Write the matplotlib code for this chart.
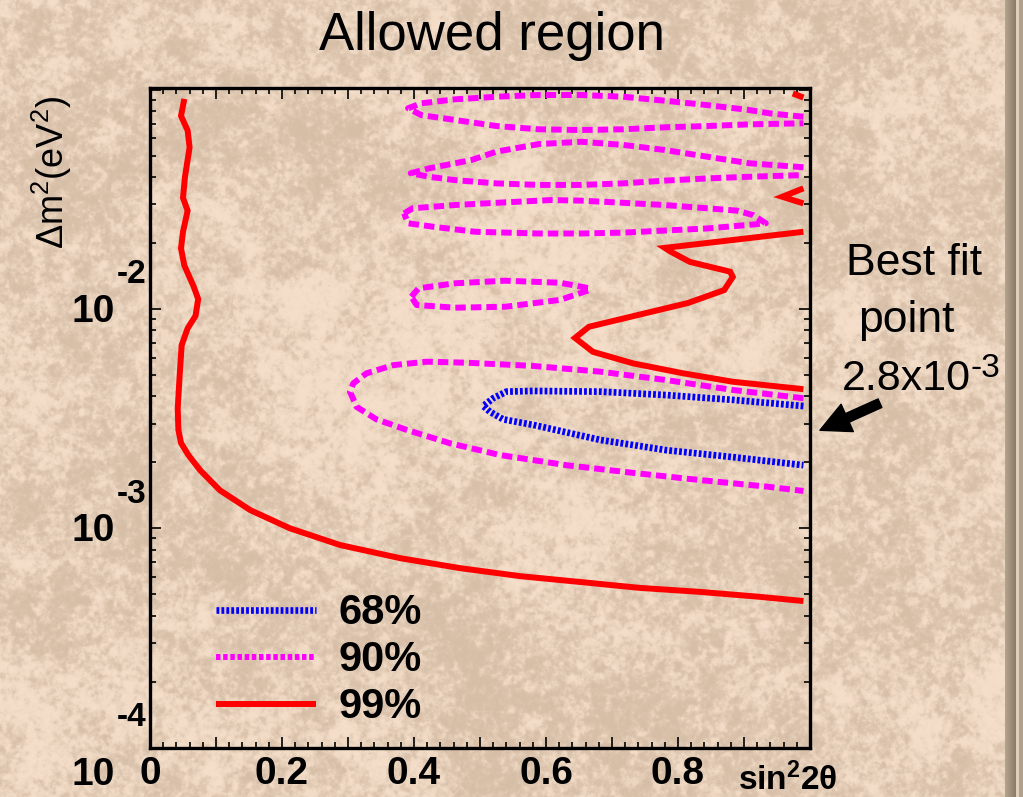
import matplotlib

matplotlib.use('Agg')
import matplotlib.pyplot as plt
import numpy as np
from matplotlib.ticker import FuncFormatter, LogLocator, MultipleLocator, NullFormatter

plt.rcParams['font.family'] = ['Liberation Sans', 'DejaVu Sans']
plt.rcParams['mathtext.fontset'] = 'custom'
plt.rcParams['mathtext.rm'] = 'Liberation Sans'
plt.rcParams['mathtext.bf'] = 'Liberation Sans:bold'
plt.rcParams['mathtext.it'] = 'Liberation Sans:italic'

# 68% C.L. contour (sin^2 2theta, dm^2 in eV^2)
cl68_s2 = [0.99, 0.884, 0.783, 0.682, 0.581, 0.540, 0.520, 0.505, 0.515, 0.535,
           0.581, 0.682, 0.783, 0.884, 0.99]
cl68_dm2 = [3.61e-3, 3.85e-3, 4.05e-3, 4.20e-3, 4.23e-3, 4.20e-3, 3.92e-3, 3.61e-3,
            3.40e-3, 3.14e-3, 2.96e-3, 2.53e-3, 2.27e-3, 2.11e-3, 1.94e-3]

# 90% C.L. contour, one island per array pair
cl90_a_s2 = [0.99, 0.939, 0.908, 0.844, 0.780, 0.717, 0.653, 0.589, 0.525, 0.462, 0.411,
             0.391, 0.411, 0.462, 0.525, 0.589, 0.653, 0.717, 0.780, 0.844, 0.908, 0.99]
cl90_a_dm2 = [7.53e-2, 7.80e-2, 8.08e-2, 8.51e-2, 8.91e-2, 9.29e-2, 9.46e-2, 9.46e-2,
              9.29e-2, 9.04e-2, 8.67e-2, 8.23e-2, 7.66e-2, 7.28e-2, 6.83e-2, 6.60e-2,
              6.55e-2, 6.60e-2, 6.74e-2, 6.83e-2, 6.95e-2, 7.03e-2]
cl90_b_s2 = [0.99, 0.908, 0.844, 0.780, 0.717, 0.653, 0.589, 0.525, 0.487, 0.423, 0.395,
             0.423, 0.462, 0.525, 0.589, 0.653, 0.717, 0.780, 0.844, 0.908, 0.99]
cl90_b_dm2 = [4.43e-2, 4.62e-2, 4.95e-2, 5.31e-2, 5.60e-2, 5.79e-2, 5.65e-2, 5.22e-2,
              4.78e-2, 4.38e-2, 4.16e-2, 4.01e-2, 3.87e-2, 3.74e-2, 3.68e-2, 3.68e-2,
              3.74e-2, 3.85e-2, 3.94e-2, 4.01e-2, 4.08e-2]
cl90_c_s2 = [0.385, 0.398, 0.462, 0.525, 0.608, 0.653, 0.717, 0.780, 0.844, 0.889, 0.914,
             0.933, 0.908, 0.844, 0.780, 0.717, 0.653, 0.589, 0.493, 0.430, 0.391, 0.385]
cl90_c_dm2 = [2.73e-2, 2.88e-2, 2.98e-2, 3.05e-2, 3.14e-2, 3.12e-2, 3.05e-2, 2.98e-2,
              2.88e-2, 2.81e-2, 2.68e-2, 2.46e-2, 2.42e-2, 2.33e-2, 2.28e-2, 2.23e-2,
              2.21e-2, 2.21e-2, 2.25e-2, 2.37e-2, 2.46e-2, 2.73e-2]
cl90_d_s2 = [0.396, 0.407, 0.462, 0.538, 0.621, 0.666, 0.666, 0.621, 0.538, 0.462,
             0.404, 0.396]
cl90_d_dm2 = [1.138e-2, 1.243e-2, 1.31e-2, 1.346e-2, 1.318e-2, 1.243e-2, 1.221e-2,
              1.10e-2, 1.024e-2, 1.014e-2, 1.043e-2, 1.138e-2]
cl90_e_s2 = [0.99, 0.884, 0.783, 0.682, 0.581, 0.480, 0.419, 0.369, 0.328, 0.308, 0.303,
             0.313, 0.343, 0.389, 0.455, 0.530, 0.631, 0.732, 0.833, 0.934, 0.99]
cl90_e_dm2 = [3.92e-3, 4.27e-3, 4.74e-3, 5.18e-3, 5.50e-3, 5.69e-3, 5.75e-3, 5.55e-3,
              5.09e-3, 4.58e-3, 4.20e-3, 3.58e-3, 3.14e-3, 2.81e-3, 2.44e-3, 2.16e-3,
              1.94e-3, 1.79e-3, 1.66e-3, 1.55e-3, 1.48e-3]

# 99% C.L. contour
cl99_a_s2 = [0.052, 0.047, 0.057, 0.060, 0.053, 0.050, 0.057, 0.050, 0.047, 0.052, 0.066,
             0.073, 0.069, 0.057, 0.048, 0.045, 0.042, 0.043, 0.047, 0.058, 0.076, 0.106,
             0.152, 0.212, 0.288, 0.379, 0.470, 0.561, 0.652, 0.742, 0.833, 0.924, 0.99]
cl99_a_dm2 = [9.08e-2, 7.60e-2, 6.52e-2, 5.46e-2, 4.01e-2, 3.21e-2, 2.81e-2, 2.25e-2,
              1.89e-2, 1.58e-2, 1.27e-2, 1.11e-2, 9.31e-3, 8.16e-3, 6.84e-3, 5.02e-3,
              3.52e-3, 2.81e-3, 2.45e-3, 2.16e-3, 1.84e-3, 1.49e-3, 1.21e-3, 1.00e-3,
              8.39e-4, 7.31e-4, 6.58e-4, 6.05e-4, 5.69e-4, 5.35e-4, 5.13e-4, 4.87e-4,
              4.66e-4]
cl99_b_s2 = [0.99, 0.780, 0.789, 0.818, 0.879, 0.883, 0.870, 0.815, 0.665, 0.644, 0.671,
             0.732, 0.808, 0.883, 0.99]
cl99_b_dm2 = [2.25e-2, 1.90e-2, 1.825e-2, 1.64e-2, 1.48e-2, 1.40e-2, 1.22e-2, 1.065e-2,
              8.30e-3, 7.38e-3, 6.38e-3, 5.65e-3, 5.09e-3, 4.66e-3, 4.31e-3]
cl99_c_s2 = [0.974, 0.99]
cl99_c_dm2 = [9.61e-2, 9.21e-2]
cl99_d_s2 = [0.99, 0.958, 0.99]
cl99_d_dm2 = [3.55e-2, 3.25e-2, 3.03e-2]

best_fit_dm2 = 2.8e-3
legend_labels = ['68%', '90%', '99%']
x_tick_labels = {0: '0', 2: '0.2', 4: '0.4', 6: '0.6', 8: '0.8'}
y_decades = [-2, -3, -4]

W, H = 1023, 797
RED, MAGENTA, BLUE = '#ff0000', '#ff00ff', '#0000ff'
LW = 4.3
STYLE68 = dict(color=BLUE, lw=4.8, dashes=(0.42, 0.32), dash_capstyle='butt')
STYLE90 = dict(color=MAGENTA, lw=LW, dashes=(1.75, 0.85), dash_capstyle='butt')
STYLE99 = dict(color=RED, lw=LW, solid_capstyle='butt', solid_joinstyle='miter')


def marble(h, w, seed=11):
    """Beige marble backdrop built from filtered noise."""
    rng = np.random.default_rng(seed)
    fy = np.fft.fftfreq(h)[:, None]
    fx = np.fft.fftfreq(w)[None, :]
    f = np.hypot(fx, fy)
    f[0, 0] = 1.0

    def layer(power, cutoff):
        spec = np.fft.fft2(rng.standard_normal((h, w))) / f ** power
        spec *= np.exp(-(f / cutoff) ** 2)
        spec[0, 0] = 0
        img = np.real(np.fft.ifft2(spec))
        return (img - img.mean()) / img.std()

    t = 0.45 * layer(1.2, 0.1) + 0.8 * layer(0.7, 0.18) + 0.25 * layer(0.3, 0.45)
    t = np.tanh(0.8 * t)
    mid = np.array([229, 206, 184], float)
    amp = np.array([16, 17, 18], float)
    rgb = mid + t[..., None] * amp
    # frame strip along the right edge
    shade = np.linspace(0.0, 1.0, 11)[None, :, None]
    rgb[:, 1005:1016] = np.array([178, 162, 142]) * (1 - shade) + np.array([140, 125, 106]) * shade
    rgb[:, 1016:1019] = [222, 208, 188]
    rgb[:, 1019:] = [176, 160, 140]
    return np.clip(rgb, 0, 255).astype(np.uint8)


fig = plt.figure(figsize=(W / 100, H / 100), dpi=100)
fig.figimage(marble(H, W), xo=0, yo=0, origin='upper', zorder=-10)

ax = fig.add_axes([150 / W, 1 - 747.6 / H, 660 / W, 659.3 / H])
ax.patch.set_alpha(0)
ax.set_yscale('log')
ax.set_xlim(0, 1)
ax.set_ylim(1e-4, 0.1015)

for s2, dm2 in [(cl99_a_s2, cl99_a_dm2), (cl99_b_s2, cl99_b_dm2),
                (cl99_c_s2, cl99_c_dm2), (cl99_d_s2, cl99_d_dm2)]:
    ax.plot(s2, dm2, **STYLE99)
for s2, dm2 in [(cl90_a_s2, cl90_a_dm2), (cl90_b_s2, cl90_b_dm2), (cl90_c_s2, cl90_c_dm2),
                (cl90_d_s2, cl90_d_dm2), (cl90_e_s2, cl90_e_dm2)]:
    ax.plot(s2, dm2, **STYLE90)
ax.plot(cl68_s2, cl68_dm2, **STYLE68)

# axes frame and ticks
for spine in ax.spines.values():
    spine.set_linewidth(2.4)
ax.xaxis.set_major_locator(MultipleLocator(0.1))
ax.xaxis.set_minor_locator(MultipleLocator(0.02))
ax.xaxis.set_major_formatter(
    FuncFormatter(lambda v, _: x_tick_labels.get(int(round(v * 10)), '')))
ax.yaxis.set_major_locator(LogLocator(base=10))
ax.yaxis.set_minor_locator(LogLocator(base=10, subs=np.arange(2, 10)))
ax.yaxis.set_major_formatter(NullFormatter())
ax.yaxis.set_minor_formatter(NullFormatter())
ax.tick_params(which='both', direction='in', top=True, right=True, width=1.2)
ax.tick_params(which='major', length=8)
ax.tick_params(which='minor', length=4)
ax.tick_params(axis='x', which='major', pad=6, labelsize=28)
for lab in ax.get_xticklabels():
    lab.set_fontweight('bold')

# decade labels in the "10 with raised exponent" style
for d in y_decades:
    base_dy, exp_dy = (-19.5, 21.5) if d == -4 else (-2.0, 24.5)
    ax.annotate('10', xy=(0, 10.0 ** d), xycoords=('axes fraction', 'data'),
                xytext=(-41, base_dy), textcoords='offset points',
                ha='center', va='center', fontsize=28, fontweight='bold')
    ax.annotate(f'{d}', xy=(0, 10.0 ** d), xycoords=('axes fraction', 'data'),
                xytext=(-13.3, exp_dy), textcoords='offset points',
                ha='center', va='center', fontsize=24, fontweight='bold')

fig.text(738 / W, 1 - 790 / H, r'$\mathbf{sin^{2}2\theta}$', ha='left', va='baseline',
         fontsize=24)
fig.text(52 / W, 1 - 172 / H, r'$\Delta$m$^{2}$(eV$^{2}$)', rotation=90,
         ha='center', va='center', fontsize=26)
fig.text(491.5 / W, 1 - 50 / H, 'Allowed region', ha='center', va='baseline', fontsize=38)

# legend drawn inside the frame
legend_styles = [dict(STYLE68), dict(STYLE90, dashes=(0.75, 0.45)), dict(STYLE99)]
for row, (label, style) in enumerate(zip(legend_labels, legend_styles)):
    yl = 0.2087 - row * 0.0713
    ax.plot([0.100, 0.2515], [yl, yl], transform=ax.transAxes, **style)
    ax.text(0.285, yl - 0.004, label, transform=ax.transAxes, ha='left', va='center',
            fontsize=30, fontweight='bold')

# best-fit pointer
ax.annotate('', xy=(1.015, best_fit_dm2), xytext=(1.106, 3.72e-3),
            arrowprops=dict(arrowstyle='simple,head_length=0.9,head_width=0.9,tail_width=0.28',
                            color='black', shrinkA=0, shrinkB=0, mutation_scale=24),
            annotation_clip=False)
fig.text(914 / W, 1 - 275 / H, 'Best fit', ha='center', va='baseline', fontsize=32)
fig.text(906 / W, 1 - 332 / H, 'point', ha='center', va='baseline', fontsize=32)
fig.text(842 / W, 1 - 390 / H, '2.8x10', ha='left', va='baseline', fontsize=31)
fig.text(971 / W, 1 - 377 / H, '-3', ha='left', va='baseline', fontsize=24)

fig.savefig('out.png', dpi=100)
